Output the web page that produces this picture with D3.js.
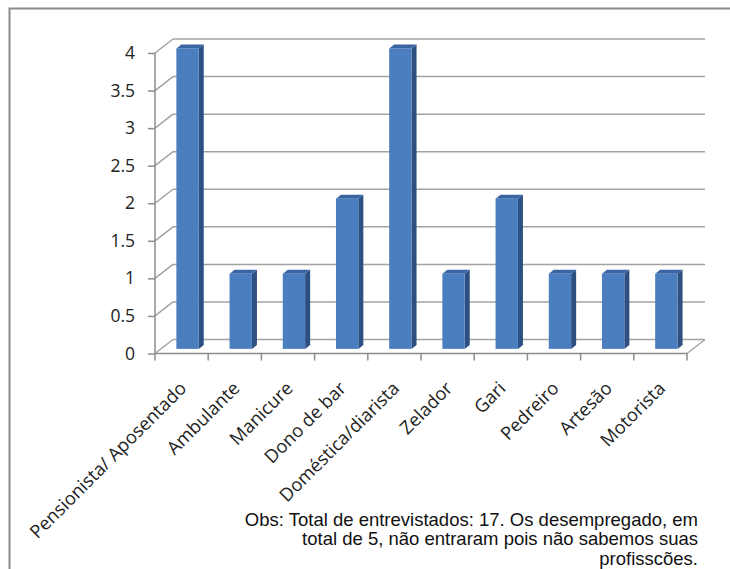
<!DOCTYPE html>
<html>
<head>
<meta charset="utf-8">
<script src="https://cdn.jsdelivr.net/npm/d3@7"></script>
<style>
  html, body { margin: 0; padding: 0; background: #fff; }
  svg { display: block; }
</style>
</head>
<body>
<svg id="chart" width="730" height="569"></svg>
<script>
const categories = ["Pensionista/ Aposentado", "Ambulante", "Manicure", "Dono de bar", "Doméstica/diarista", "Zelador", "Gari", "Pedreiro", "Artesão", "Motorista"];
const values = [4, 1, 1, 2, 4, 1, 2, 1, 1, 1];
const yTicks = [0, 0.5, 1, 1.5, 2, 2.5, 3, 3.5, 4];
const yTickLabels = ["0", "0.5", "1", "1.5", "2", "2.5", "3", "3.5", "4"];
const noteLines = ["Obs: Total de entrevistados: 17. Os desempregado, em", "total de 5, não entraram pois não sabemos suas", "profisscões."];

const svg = d3.select("#chart");
const W = 730, H = 569;

// frame (left & top border)
svg.append("path").attr("d", `M9.5,${H} L9.5,8.5 L${W},8.5`)
  .attr("fill", "none").attr("stroke", "#8a8a8a").attr("stroke-width", 2);

const x0 = 155, x1 = 687, yBase = 353.5, yTop = 53;
const DX = 18, DY = -14;   // depth offset

const x = d3.scaleBand().domain(categories).range([x0, x1]).paddingInner(0).paddingOuter(0);
const y = d3.scaleLinear().domain([0, 4]).range([yBase, yTop]);

const grid = svg.append("g").attr("stroke", "#a3a3a3").attr("stroke-width", 1.5).attr("fill", "none");
// back wall gridlines + left wall diagonals
yTicks.forEach(t => {
  grid.append("line").attr("x1", x0 + DX).attr("x2", x1 + DX).attr("y1", y(t) + DY).attr("y2", y(t) + DY);
  grid.append("line").attr("x1", x0).attr("x2", x0 + DX).attr("y1", y(t)).attr("y2", y(t) + DY);
});
// floor right edge
grid.append("line").attr("x1", x1).attr("x2", x1 + DX).attr("y1", yBase).attr("y2", yBase + DY);

// bars (3D)
const bw = x.bandwidth() * 0.42;
const f1 = 0.33, f2 = 0.61;
const bars = svg.append("g");
categories.forEach((c, i) => {
  const v = values[i];
  const cx = x(c) + x.bandwidth() / 2;
  const lx = cx - bw / 2 + DX * f1, rx = cx + bw / 2 + DX * f1;
  const by = y(0) + DY * f1, ty = y(v) + DY * f1;
  const ox = DX * (f2 - f1), oy = DY * (f2 - f1);
  // side face
  bars.append("path").attr("d", `M${rx},${by} L${rx + ox},${by + oy} L${rx + ox},${ty + oy} L${rx},${ty} Z`)
    .attr("fill", "#2d5083");
  // top face
  bars.append("path").attr("d", `M${lx},${ty} L${lx + ox},${ty + oy} L${rx + ox},${ty + oy} L${rx},${ty} Z`)
    .attr("fill", "#3b65a2");
  // front face
  bars.append("rect").attr("x", lx).attr("y", ty).attr("width", rx - lx).attr("height", by - ty)
    .attr("fill", "#4a7ebf");
});

// y axis (front)
const axY = svg.append("g").attr("transform", `translate(${x0},0)`)
  .call(d3.axisLeft(y).tickValues(yTicks).tickFormat((d, i) => yTickLabels[i]).tickSize(7).tickPadding(13));
axY.select(".domain").attr("stroke", "#8c8c8c").attr("stroke-width", 1.5).attr("d", `M0,${yBase}V${yTop}`);
axY.selectAll(".tick line").attr("stroke", "#8c8c8c").attr("stroke-width", 1.5);
axY.selectAll(".tick text").attr("font-family", "Open Sans, sans-serif").attr("font-size", 17.5).attr("fill", "#222");

// x axis (front floor edge)
const axX = svg.append("g").attr("transform", `translate(0,${yBase})`)
  .call(d3.axisBottom(x).tickSize(0).tickFormat(""));
axX.select(".domain").attr("stroke", "#8c8c8c").attr("stroke-width", 1.5).attr("d", `M${x0},0H${x1}`);
const bounds = categories.map(c => x(c)).concat([x1]);
axX.selectAll(".bt").data(bounds).enter().append("line").attr("class", "bt")
  .attr("x1", d => d).attr("x2", d => d).attr("y1", 0).attr("y2", 7)
  .attr("stroke", "#8c8c8c").attr("stroke-width", 1.5);

// category labels rotated
svg.append("g").selectAll("text").data(categories).enter().append("text")
  .attr("transform", d => `translate(${x(d) + x.bandwidth() / 2 + 6},${yBase + 36}) rotate(-45)`)
  .attr("text-anchor", "end")
  .attr("font-family", "Open Sans, sans-serif").attr("font-size", 18.3)
  .attr("fill", "#222")
  .text(d => d);

// note
svg.append("g").selectAll("text").data(noteLines).enter().append("text")
  .attr("x", 698).attr("y", (d, i) => 525.5 + i * 19.8)
  .attr("text-anchor", "end")
  .attr("font-family", "Liberation Sans, Arial, sans-serif").attr("font-size", 18.5)
  .attr("fill", "#111")
  .text(d => d);
</script>
</body>
</html>
